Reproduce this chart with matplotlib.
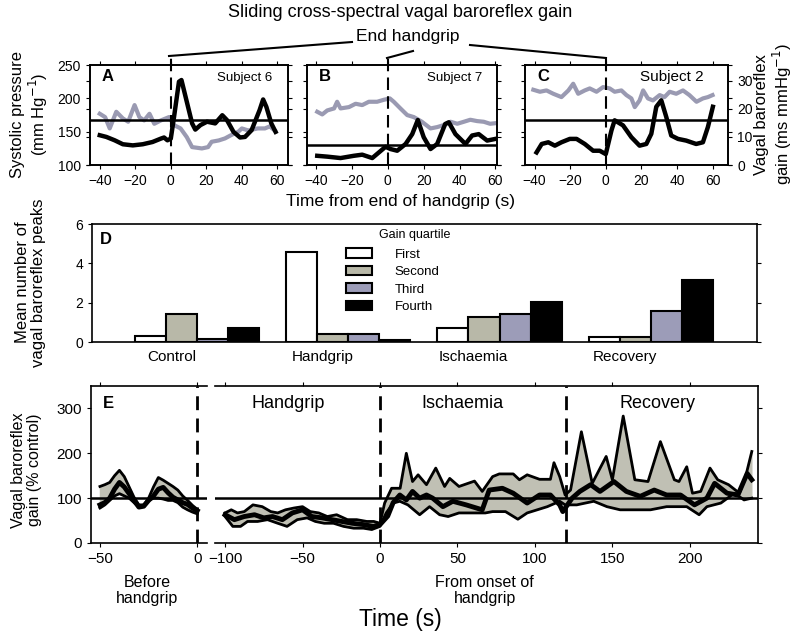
import numpy as np
import matplotlib
matplotlib.use("Agg")
import matplotlib.pyplot as plt
from matplotlib.patches import Patch

plt.rcParams['font.family'] = ['Liberation Sans', 'DejaVu Sans']

# ---- panels A-C : single subjects, time from end of handgrip ----
# subject 6
a_t_sbp = [-40, -37, -34.4, -30.7, -27, -24, -20.4, -17.7, -15, -12, -9.3, -5.6, -1, 1.8, 5.5, 9, 12,
           17.5, 21, 23, 27, 30.5, 34, 38, 40, 43.6, 49, 53, 55.7, 58.5]
a_sbp = [177, 172, 155, 180, 170, 165, 190, 172, 167, 177, 162, 167, 172, 160, 155, 142, 127,
         125, 127, 135, 137, 140, 145, 150, 155, 152, 155, 155, 158, 152]
a_t_gain = [-40, -36.3, -31.6, -27, -21.4, -15.8, -10.3, -5.6, -3.8, -1.9, 0, 1.8, 4.6, 6, 8.3, 12,
            13.8, 16.7, 20.4, 25, 29, 31.6, 35.3, 39, 41.8, 45.5, 50, 52, 53.8, 56.6, 59]
a_gain = [10.6, 10, 8.8, 7.4, 7, 7.4, 8.2, 9.4, 9.8, 8.8, 9.4, 17, 29.6, 30.2, 24.3, 14.8,
          12.6, 14.2, 15.4, 14.8, 17.7, 16, 11.8, 9.8, 10, 12.4, 19.5, 23.3, 20.7, 14.8, 11.8]
a_ref = 16

# subject 7
b_t_sbp = [-39.4, -36.6, -33.8, -30, -28.3, -26.4, -21.7, -18, -14.3, -10.6, -6, -2.2, 1.1, 3.3, 7,
           10.8, 14.5, 19, 23.8, 27.5, 31.2, 35, 38.7, 42.4, 46, 49.8, 53.5, 57, 60.6]
b_sbp = [180, 176, 182, 185, 195, 185, 187, 192, 190, 195, 195, 198, 200, 195, 185,
         175, 172, 165, 155, 157, 160, 165, 162, 165, 168, 166, 165, 162, 163]
b_t_gain = [-39.4, -33.8, -26.4, -19, -14.3, -8.7, -5, -1.3, 1.5, 5.2, 9.9, 13.6, 16.7, 20, 23.8,
            27.5, 32, 34, 37.7, 43.3, 47, 50.7, 55.4, 60]
b_gain = [3.3, 3, 2.5, 3.3, 3.7, 2.5, 4.5, 6.5, 5.7, 5.1, 7.5, 11, 16, 9.9, 5.7,
          7.5, 14.6, 15.2, 11, 7.5, 10.5, 11, 8.7, 9.3]
b_ref = 7

# subject 2
c_t_sbp = [-40.7, -37, -33.3, -29.5, -24.9, -21, -18.3, -15.5, -11.8, -9, -5.2, -1.5, 2.2, 5, 8.8,
           11.6, 14.4, 16.3, 19, 21, 23.7, 26.5, 30.3, 33, 35.9, 39.6, 43.4, 47, 51, 54.6, 57.4, 60]
c_sbp = [213, 210, 212, 207, 202, 212, 222, 207, 212, 215, 210, 217, 215, 210, 212,
         205, 200, 187, 197, 212, 200, 197, 205, 202, 210, 207, 212, 205, 195, 200, 202, 205]
c_t_gain = [-38.9, -36, -32.3, -28.6, -24.9, -20.2, -16.4, -11.8, -7.1, -3.4, 0, 3.2, 5, 9.7, 14.4,
            19, 22.8, 25.6, 28.4, 31.2, 34, 36.8, 40.6, 45.2, 50.8, 54.6, 57.4, 60.2]
c_gain = [4.5, 7.5, 8.1, 6.9, 8.1, 9.3, 9.3, 7.5, 5.1, 5.1, 3.9, 12.3, 15.9, 14.1, 9.9,
          6.9, 7.5, 11.1, 20.7, 23, 17.1, 10.5, 9.3, 8.7, 7.5, 8.1, 13.5, 20.7]
c_ref = 16

# ---- panel D : peaks per gain quartile ----
phases = ['Control', 'Handgrip', 'Ischaemia', 'Recovery']
quartiles = ['First', 'Second', 'Third', 'Fourth']
q_first = [0.3, 4.58, 0.73, 0.27]
q_second = [1.44, 0.41, 1.29, 0.27]
q_third = [0.14, 0.41, 1.44, 1.59]
q_fourth = [0.72, 0.08, 2.03, 3.17]

# ---- panel E : group gain, % control ----
pre_t = [-50, -47.5, -45, -42.5, -40, -37.5, -35, -32.5, -30, -27.5, -25, -22.5, -20, -17.5, -15,
         -12.5, -10, -7.5, -5, -2.5, 0]
pre_upper = [126, 130, 135, 150, 162, 148, 125, 102, 85, 85, 100, 125, 146, 140, 133,
             126, 118, 105, 95, 84, 75]
pre_mean = [85, 90, 100, 120, 135, 125, 110, 95, 80, 82, 95, 105, 120, 124, 112,
            102, 96, 90, 86, 78, 72]
pre_lower = [78, 85, 95, 105, 110, 105, 100, 90, 80, 85, 95, 100, 100, 98, 95,
             95, 90, 80, 74, 69, 65]

up_t = [-100, -96, -92, -87.6, -82, -76, -70.5, -66, -61, -55.5, -50, -45, -39.5, -34, -28, -21,
        -15, -8.5, -4, 0, 3, 7.5, 13, 17, 21, 24.6, 30, 36, 41.7, 45, 51, 61, 66, 72.7, 77, 86,
        90, 95, 103, 110, 112.3, 116, 119.5, 123, 130, 137, 146, 150, 157, 164.5, 173, 181, 190,
        193, 198, 201.7, 207, 213, 218, 225, 232, 236, 240]
up_val = [67, 74, 67, 70, 85, 81, 70, 67, 74, 78, 81, 70, 67, 59, 63, 52,
          52, 48, 48, 44, 89, 122, 122, 200, 137, 152, 130, 167, 126, 144, 126, 138, 115, 148, 154, 154,
          141, 152, 142, 142, 179, 148, 107, 118, 248, 133, 193, 141, 283, 141, 137, 226, 141,
          137, 170, 111, 115, 167, 141, 130, 111, 148, 204]
lo_t = [-100, -95, -90, -85.5, -79, -72.6, -66, -60, -53.4, -47, -41.7, -36, -30, -23.5, -17, -10.7,
        -5.3, 0, 4, 8.5, 12.8, 18, 25.6, 32, 38.5, 44, 51, 60, 68, 72.7, 81, 89, 95, 108, 116,
        119.5, 127, 138, 146.5, 155, 166, 174.6, 185, 198, 206, 211, 220, 228.7, 235, 240]
lo_val = [59, 37, 37, 48, 48, 52, 44, 37, 52, 56, 48, 44, 44, 37, 33, 33,
          30, 37, 67, 89, 93, 85, 63, 81, 63, 59, 67, 67, 67, 70, 70, 53, 67, 81, 93,
          85, 85, 93, 81, 74, 74, 74, 81, 81, 63, 81, 89, 111, 96, 100]
mn_t = [-100, -94, -87.6, -81, -75, -69.4, -63, -56.6, -50, -44, -37.4, -31, -24.6, -18, -10.7, -4.3,
        0, 5, 8.5, 12.8, 17, 21, 25.6, 30, 34, 40.6, 47, 55.6, 66, 70.5, 79, 86, 95, 103, 110,
        116, 118, 124, 129, 136, 142, 151, 159, 168, 177, 185, 194, 203, 211, 216, 224, 231, 237, 240]
mn_val = [63, 52, 59, 63, 56, 59, 52, 67, 74, 59, 56, 52, 48, 44, 41, 37,
          41, 60, 90, 107, 96, 115, 100, 107, 100, 81, 93, 85, 74, 118, 122, 111, 89, 107, 107,
          85, 70, 100, 115, 130, 115, 137, 115, 104, 118, 107, 107, 85, 100, 133, 111, 107, 155, 141]

GREY_LINE = '#9a9ab2'
FILL = '#c0c0b4'
BAR_COLORS = ['white', '#b8b8a8', '#9c9cb8', 'black']

fig = plt.figure(figsize=(8, 6.35), dpi=100)


def subject_panel(rect, letter, subject, t_sbp, sbp, t_gain, gain, ref, xlim,
                  left_labels, right_labels, subj_x, subj_size):
    ax = fig.add_axes(rect)
    ax2 = ax.twinx()
    ax.plot(t_sbp, sbp, color=GREY_LINE, lw=3, solid_joinstyle='round')
    ax2.plot(t_gain, gain, color='black', lw=3.2, solid_joinstyle='round')
    ax2.axhline(ref, color='black', lw=1.8)
    ax.set_xlim(xlim)
    ax.set_ylim(100, 250)
    ax2.set_ylim(0, 35.5)
    ax.set_xticks([-40, -20, 0, 20, 40, 60])
    ax.set_yticks([100, 150, 200, 250])
    ax2.set_yticks([0, 10, 20, 30])
    # end of handgrip, dashed line runs up to the bracket
    ax.plot([0, 0], [0, 1.1], transform=ax.get_xaxis_transform(), color='black',
            lw=1.5, dashes=(6, 3), clip_on=False, zorder=5)
    ax.tick_params(direction='out', length=3, labelsize=10, top=True, right=True,
                   labelleft=left_labels, labelright=False)
    ax2.tick_params(direction='out', length=3, labelsize=10, left=True, right=True,
                    labelleft=False, labelright=right_labels)
    for a in (ax, ax2):
        for s in a.spines.values():
            s.set_linewidth(1.2)
    ax.text(0.06, 0.84, letter, transform=ax.transAxes, fontsize=12, fontweight='bold')
    ax.text(subj_x, 0.84, subject, transform=ax.transAxes, fontsize=subj_size, ha='right')
    return ax


subject_panel([0.1125, 0.740, 0.2475, 0.1575], 'A', 'Subject 6', a_t_sbp, a_sbp,
              a_t_gain, a_gain, a_ref, (-45.5, 66), True, False, 0.92, 9.5)
subject_panel([0.384, 0.740, 0.2375, 0.1575], 'B', 'Subject 7', b_t_sbp, b_sbp,
              b_t_gain, b_gain, b_ref, (-45, 61), False, False, 0.92, 9.5)
subject_panel([0.656, 0.740, 0.254, 0.1575], 'C', 'Subject 2', c_t_sbp, c_sbp,
              c_t_gain, c_gain, c_ref, (-45.5, 68.7), False, True, 0.88, 11)

fig.text(0.5, 0.981, 'Sliding cross-spectral vagal baroreflex gain', ha='center', va='center',
         fontsize=13)
fig.text(0.51, 0.942, 'End handgrip', ha='center', va='center', fontsize=12.5)
# bracket lines from the dashed lines to the label
for x0, y0, x1, y1 in [(169, 56, 352, 42), (387, 58, 413, 51), (470, 45, 606, 58)]:
    fig.add_artist(plt.Line2D([x0 / 800, x1 / 800], [1 - y0 / 635, 1 - y1 / 635],
                              color='black', lw=1.5))
fig.text(0.5, 0.682, 'Time from end of handgrip (s)', ha='center', va='center', fontsize=12.5)
fig.text(0.038, 0.82, 'Systolic pressure\n(mm Hg$^{-1}$)', ha='center', va='center',
         rotation=90, fontsize=12, linespacing=1.1)
fig.text(0.968, 0.82, 'Vagal baroreflex\ngain (ms mmHg$^{-1}$)', ha='center', va='center',
         rotation=90, fontsize=12, linespacing=1.1)

# ---- panel D ----
axd = fig.add_axes([0.115, 0.4614, 0.831, 0.1858])
width = 0.205
x = np.arange(len(phases))
for k, vals in enumerate([q_first, q_second, q_third, q_fourth]):
    axd.bar(x + 0.17 + (k - 1.5) * width, vals, width, color=BAR_COLORS[k],
            edgecolor='black', lw=1.5, zorder=3)
axd.set_xlim(-0.524, 3.871)
axd.set_ylim(0, 6)
axd.set_yticks([0, 2, 4, 6])
axd.set_xticks(x)
axd.set_xticklabels(phases, fontsize=11)
axd.tick_params(axis='x', length=0, pad=6)
axd.tick_params(axis='y', direction='out', length=3, labelsize=10, right=True)
for s in axd.spines.values():
    s.set_linewidth(1.2)
axd.text(0.012, 0.83, 'D', transform=axd.transAxes, fontsize=12, fontweight='bold')
handles = [Patch(facecolor=c, edgecolor='black', lw=1.5) for c in BAR_COLORS]
axd.legend(handles, quartiles, loc='upper left', bbox_to_anchor=(0.372, 0.85),
           frameon=False, fontsize=9.5, handlelength=2.0, handleheight=0.75,
           handletextpad=1.7, labelspacing=0.38, borderpad=0)
axd.text(0.432, 0.905, 'Gain quartile', transform=axd.transAxes, fontsize=9,
         va='center')
fig.text(0.038, 0.555, 'Mean number of\nvagal baroreflex peaks', ha='center', va='center',
         rotation=90, fontsize=12, linespacing=1.1)

# ---- panel E, before handgrip ----
axe1 = fig.add_axes([0.11375, 0.1449, 0.145, 0.2472])
axe1.fill_between(pre_t, pre_lower, pre_upper, color=FILL, zorder=1)
axe1.plot(pre_t, pre_upper, color='black', lw=2, zorder=2, solid_joinstyle='round')
axe1.plot(pre_t, pre_lower, color='black', lw=2, zorder=2, solid_joinstyle='round')
axe1.plot(pre_t, pre_mean, color='black', lw=3.5, zorder=3, solid_joinstyle='round')
axe1.axhline(100, color='black', lw=1.8, zorder=4)
axe1.axvline(0, color='black', lw=2, dashes=(5, 3), zorder=4)
axe1.set_xlim(-54.6, 5)
axe1.set_ylim(0, 350)
axe1.set_xticks([-50, 0])
axe1.set_yticks([0, 100, 200, 300])
axe1.spines['right'].set_visible(False)
axe1.tick_params(direction='out', length=3, labelsize=11, top=True)
axe1.text(0.1, 0.86, 'E', transform=axe1.transAxes, fontsize=12, fontweight='bold')

# ---- panel E, from onset of handgrip ----
axe2 = fig.add_axes([0.26875, 0.1449, 0.67875, 0.2472])
axe2.fill(np.concatenate([up_t, lo_t[::-1]]), np.concatenate([up_val, lo_val[::-1]]),
          color=FILL, zorder=1)
axe2.plot(up_t, up_val, color='black', lw=2, zorder=2, solid_joinstyle='round')
axe2.plot(lo_t, lo_val, color='black', lw=2, zorder=2, solid_joinstyle='round')
axe2.plot(mn_t, mn_val, color='black', lw=3.5, zorder=3, solid_joinstyle='round')
axe2.axhline(100, color='black', lw=1.8, zorder=4)
for xv in (0, 120):
    axe2.axvline(xv, color='black', lw=2, dashes=(5, 3), zorder=4)
axe2.set_xlim(-106.5, 244)
axe2.set_ylim(0, 350)
axe2.set_xticks([-100, -50, 0, 50, 100, 150, 200])
axe2.set_yticks([0, 100, 200, 300])
axe2.spines['left'].set_visible(False)
axe2.tick_params(direction='out', length=3, labelsize=11, top=True, left=False,
                 right=True, labelleft=False)
for a in (axe1, axe2):
    for s in a.spines.values():
        s.set_linewidth(1.2)
for label, xv in [('Handgrip', -59), ('Ischaemia', 53), ('Recovery', 179)]:
    axe2.text(xv, 310, label, ha='center', va='center', fontsize=13)

fig.text(0.184, 0.07, 'Before\nhandgrip', ha='center', va='center', fontsize=11.5,
         linespacing=1.1)
fig.text(0.606, 0.07, 'From onset of\nhandgrip', ha='center', va='center', fontsize=11.5,
         linespacing=1.1)
fig.text(0.5, 0.024, 'Time (s)', ha='center', va='center', fontsize=16.5)
fig.text(0.033, 0.26, 'Vagal baroreflex\ngain (% control)', ha='center', va='center',
         rotation=90, fontsize=11.5, linespacing=1.1)

fig.savefig('out.png', dpi=100)
